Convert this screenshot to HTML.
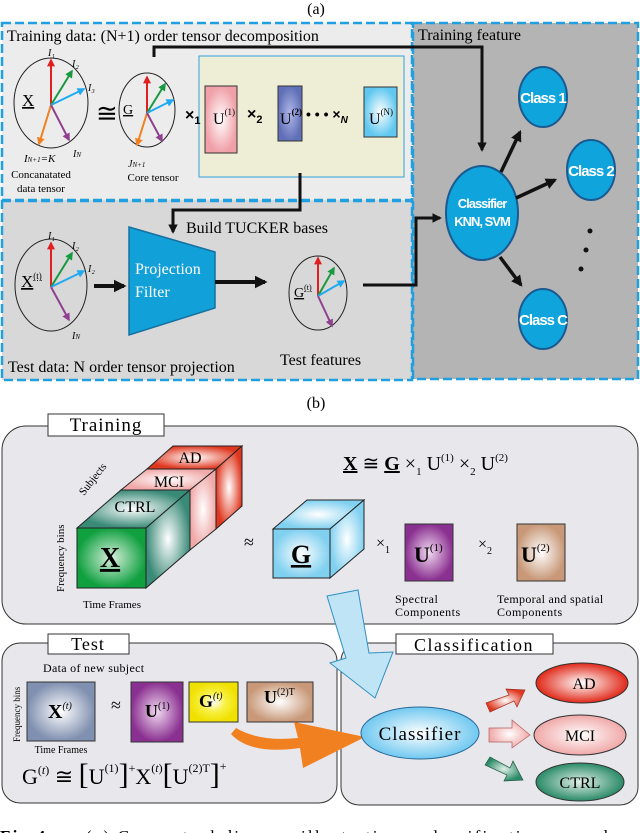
<!DOCTYPE html>
<html><head><meta charset="utf-8"><style>html,body{margin:0;padding:0;background:#fff}svg{display:block}</style></head>
<body>
<svg width="640" height="833" viewBox="0 0 640 833" xmlns="http://www.w3.org/2000/svg" font-family="'Liberation Serif', serif">
<defs>
<marker id="ah" viewBox="0 0 10 10" refX="8" refY="5" markerWidth="3.2" markerHeight="3.2" orient="auto"><path d="M0,0 L10,5 L0,10 z" fill="#111"/></marker>
<marker id="r" viewBox="0 0 10 10" refX="8" refY="5" markerWidth="4" markerHeight="4" orient="auto"><path d="M0,0 L10,5 L0,10 z" fill="#e02020"/></marker>
<marker id="g" viewBox="0 0 10 10" refX="8" refY="5" markerWidth="4" markerHeight="4" orient="auto"><path d="M0,0 L10,5 L0,10 z" fill="#1a9a40"/></marker>
<marker id="b" viewBox="0 0 10 10" refX="8" refY="5" markerWidth="4" markerHeight="4" orient="auto"><path d="M0,0 L10,5 L0,10 z" fill="#20aaf0"/></marker>
<marker id="o" viewBox="0 0 10 10" refX="8" refY="5" markerWidth="4" markerHeight="4" orient="auto"><path d="M0,0 L10,5 L0,10 z" fill="#f08020"/></marker>
<marker id="p" viewBox="0 0 10 10" refX="8" refY="5" markerWidth="4" markerHeight="4" orient="auto"><path d="M0,0 L10,5 L0,10 z" fill="#904090"/></marker>
<radialGradient id="pink"><stop offset="0" stop-color="#fff"/><stop offset="1" stop-color="#f0a0a8"/></radialGradient>
<radialGradient id="cyan"><stop offset="0" stop-color="#fff"/><stop offset="1" stop-color="#60c8f0"/></radialGradient>
<radialGradient id="blu"><stop offset="0" stop-color="#b0b8e8"/><stop offset="1" stop-color="#6070b8"/></radialGradient>
<radialGradient id="green"><stop offset="0" stop-color="#d8f0dc"/><stop offset="1" stop-color="#10a040"/></radialGradient>
<radialGradient id="teal"><stop offset="0" stop-color="#fff"/><stop offset="1" stop-color="#3a8a78"/></radialGradient>
<radialGradient id="red"><stop offset="0" stop-color="#fff"/><stop offset="1" stop-color="#e03820"/></radialGradient>
<radialGradient id="lb"><stop offset="0" stop-color="#fff"/><stop offset="1" stop-color="#80d0f0"/></radialGradient>
<radialGradient id="purp"><stop offset="0" stop-color="#f0d8f0"/><stop offset="1" stop-color="#8a3090"/></radialGradient>
<radialGradient id="tan"><stop offset="0" stop-color="#fff"/><stop offset="1" stop-color="#c89878"/></radialGradient>
<radialGradient id="gray"><stop offset="0" stop-color="#fff"/><stop offset="1" stop-color="#8090b0"/></radialGradient>
<radialGradient id="yel"><stop offset="0" stop-color="#fff"/><stop offset="0.5" stop-color="#f8f040"/><stop offset="1" stop-color="#f0e000"/></radialGradient>
<radialGradient id="adg"><stop offset="0" stop-color="#fff"/><stop offset="1" stop-color="#e02818"/></radialGradient>
<radialGradient id="mcig"><stop offset="0" stop-color="#fff"/><stop offset="1" stop-color="#f0a8a8"/></radialGradient>
<radialGradient id="ctg"><stop offset="0" stop-color="#e0f0e8"/><stop offset="1" stop-color="#2a8a68"/></radialGradient>
<radialGradient id="clg"><stop offset="0" stop-color="#fff"/><stop offset="1" stop-color="#70c8f0"/></radialGradient>
</defs>

<!-- (a) -->
<text x="316" y="14" font-size="16" text-anchor="middle">(a)</text>
<rect x="2" y="23" width="410" height="177" fill="#ececec"/>
<rect x="2" y="200" width="410" height="180" fill="#d8d8d8"/>
<rect x="413" y="23" width="225" height="356" fill="#b4b4b4"/>
<g fill="none" stroke="#20a0e0" stroke-width="2.5" stroke-dasharray="9,4">
<rect x="2" y="23" width="410" height="177"/>
<rect x="2" y="201" width="410" height="179"/>
<rect x="413" y="23" width="225" height="356"/>
</g>
<text x="7" y="41" font-size="16">Training data: (N+1) order tensor decomposition</text>
<text x="418" y="40" font-size="16">Training feature</text>

<!-- circle X -->
<ellipse cx="51" cy="103" rx="37" ry="45" fill="none" stroke="#222"/>
<g stroke-width="2">
<line x1="51" y1="105" x2="51" y2="60" stroke="#e02020" marker-end="url(#r)"/>
<line x1="51" y1="105" x2="72" y2="71" stroke="#1a9a40" marker-end="url(#g)"/>
<line x1="51" y1="105" x2="84" y2="89" stroke="#20aaf0" marker-end="url(#b)"/>
<line x1="51" y1="105" x2="39" y2="144" stroke="#f08020" marker-end="url(#o)"/>
<line x1="51" y1="105" x2="69" y2="140" stroke="#904090" marker-end="url(#p)"/>
</g>
<text x="22" y="106" font-size="17" text-decoration="underline">X</text>
<g font-size="10" font-style="italic"><text x="48" y="56">I₁</text><text x="72" y="67">I₂</text><text x="88" y="91">I₃</text><text x="73" y="157">I<tspan font-size="7">N</tspan></text></g>
<text x="24" y="162" font-size="11" font-style="italic">I<tspan font-size="7">N+1</tspan>=K</text>
<text x="41" y="178" font-size="11" text-anchor="middle">Concanatated</text>
<text x="41" y="192" font-size="11" text-anchor="middle">data tensor</text>
<text x="96" y="122" font-size="26">≅</text>

<!-- circle G -->
<ellipse cx="147" cy="110" rx="28" ry="37" fill="none" stroke="#222"/>
<g stroke-width="2">
<line x1="147" y1="113" x2="147" y2="77" stroke="#e02020" marker-end="url(#r)"/>
<line x1="147" y1="113" x2="165" y2="84" stroke="#1a9a40" marker-end="url(#g)"/>
<line x1="147" y1="113" x2="173" y2="100" stroke="#20aaf0" marker-end="url(#b)"/>
<line x1="147" y1="113" x2="137" y2="145" stroke="#f08020" marker-end="url(#o)"/>
<line x1="147" y1="113" x2="162" y2="141" stroke="#904090" marker-end="url(#p)"/>
</g>
<text x="123" y="114" font-size="14" text-decoration="underline">G</text>
<text x="128" y="167" font-size="10" font-style="italic">J<tspan font-size="7">N+1</tspan></text>
<text x="153" y="181" font-size="11" text-anchor="middle">Core tensor</text>

<rect x="199" y="56" width="205" height="121" fill="#eeeed6" stroke="#30a0e0"/>
<text x="185" y="120" font-size="16" font-family="'Liberation Sans',sans-serif" font-weight="bold">×<tspan font-size="11" dy="4">1</tspan></text>
<rect x="205" y="86" width="32" height="67" fill="url(#pink)" stroke="#333"/>
<text x="213" y="124" font-size="16">U<tspan font-size="9" dy="-9">(1)</tspan></text>
<text x="247" y="119" font-size="16" font-family="'Liberation Sans',sans-serif" font-weight="bold">×<tspan font-size="11" dy="4">2</tspan></text>
<rect x="278" y="86" width="24" height="55" fill="url(#blu)" stroke="#333"/>
<text x="280" y="124" font-size="16">U<tspan font-size="9" dy="-9" font-weight="bold">(2)</tspan></text>
<text x="306" y="119" font-size="14" font-family="'Liberation Sans',sans-serif" font-weight="bold">• • • ×<tspan font-size="10" dy="4" font-style="italic">N</tspan></text>
<rect x="364" y="87" width="33" height="50" fill="url(#cyan)" stroke="#333"/>
<text x="369" y="124" font-size="16">U<tspan font-size="9" dy="-9">(N)</tspan></text>

<!-- connectors -->
<polyline points="154,57 154,47 482,47 482,150" fill="none" stroke="#111" stroke-width="3" marker-end="url(#ah)"/>
<polyline points="300,173 300,210 173,210 173,232" fill="none" stroke="#111" stroke-width="3" marker-end="url(#ah)"/>
<text x="186" y="233" font-size="16">Build TUCKER bases</text>

<!-- circle Xt -->
<ellipse cx="51" cy="285" rx="36" ry="46" fill="none" stroke="#222"/>
<g stroke-width="2">
<line x1="51" y1="287" x2="51" y2="243" stroke="#e02020" marker-end="url(#r)"/>
<line x1="51" y1="287" x2="72" y2="253" stroke="#1a9a40" marker-end="url(#g)"/>
<line x1="51" y1="287" x2="84" y2="271" stroke="#20aaf0" marker-end="url(#b)"/>
<line x1="51" y1="287" x2="69" y2="320" stroke="#904090" marker-end="url(#p)"/>
</g>
<text x="21" y="287" font-size="17" text-decoration="underline">X<tspan font-size="9" dy="-8">(t)</tspan></text>
<g font-size="10" font-style="italic"><text x="48" y="239">I₁</text><text x="72" y="249">I₂</text><text x="88" y="272">I₂</text><text x="72" y="339">I<tspan font-size="7">N</tspan></text></g>
<line x1="94" y1="286" x2="124" y2="286" stroke="#111" stroke-width="4" marker-end="url(#ah)"/>
<polygon points="129,227 215,252 215,308 129,335" fill="#12a0d8" stroke="#1670a0" stroke-width="1.5"/>
<text x="135" y="274" font-size="16" fill="#fff">Projection</text>
<text x="135" y="297" font-size="16" fill="#fff">Filter</text>
<line x1="215" y1="282" x2="265" y2="282" stroke="#111" stroke-width="4" marker-end="url(#ah)"/>

<ellipse cx="318" cy="293" rx="29" ry="37" fill="none" stroke="#222"/>
<g stroke-width="2">
<line x1="318" y1="296" x2="318" y2="258" stroke="#e02020" marker-end="url(#r)"/>
<line x1="318" y1="296" x2="334" y2="268" stroke="#1a9a40" marker-end="url(#g)"/>
<line x1="318" y1="296" x2="344" y2="281" stroke="#20aaf0" marker-end="url(#b)"/>
<line x1="318" y1="296" x2="332" y2="326" stroke="#904090" marker-end="url(#p)"/>
</g>
<text x="294" y="297" font-size="14" text-decoration="underline">G<tspan font-size="8" dy="-7">(t)</tspan></text>
<text x="280" y="365" font-size="16">Test features</text>
<text x="8" y="372" font-size="16">Test data: N order tensor projection</text>
<polyline points="363,285 416,285 416,218 440,218" fill="none" stroke="#111" stroke-width="3" marker-end="url(#ah)"/>

<!-- classifier -->
<g stroke="#1a5a90" stroke-width="2" fill="#10a4dc">
<ellipse cx="482" cy="213" rx="36" ry="47"/>
<ellipse cx="543" cy="97" rx="24" ry="30"/>
<ellipse cx="591" cy="170" rx="24" ry="30"/>
<ellipse cx="543" cy="319" rx="24" ry="30"/>
</g>
<g font-family="'Liberation Sans',sans-serif" font-weight="bold" fill="#fff" text-anchor="middle" letter-spacing="-1">
<text x="482" y="208" font-size="13">Classifier</text>
<text x="482" y="226" font-size="13">KNN, SVM</text>
<text x="543" y="103" font-size="15">Class 1</text>
<text x="591" y="176" font-size="15">Class 2</text>
<text x="543" y="325" font-size="15">Class C</text>
</g>
<g stroke="#111" stroke-width="3.5" marker-end="url(#ah)">
<line x1="501" y1="172" x2="520" y2="132"/>
<line x1="516" y1="198" x2="555" y2="180"/>
<line x1="500" y1="257" x2="521" y2="285"/>
</g>
<circle cx="590" cy="231" r="2.5" fill="#111"/><circle cx="586" cy="250" r="2.5" fill="#111"/><circle cx="581" cy="269" r="2.5" fill="#111"/>

<!-- (b) -->
<text x="316" y="408" font-size="16" text-anchor="middle">(b)</text>
<rect x="2" y="426" width="636" height="198" rx="24" fill="#e8e8ec" stroke="#333"/>
<rect x="48" y="414" width="116" height="22" fill="#fff" stroke="#333"/>
<text x="106" y="431" font-size="19" text-anchor="middle" letter-spacing="1">Training</text>

<!-- stacked cube -->
<g stroke="#222" stroke-width="1">
<!-- AD slab (o2->o3) -->
<polygon points="147,469 216,469 242,446 173,446" fill="url(#red)"/>
<polygon points="216,469 242,446 242,506 216,529" fill="url(#red)"/>
<!-- MCI slab (o1->o2) -->
<polygon points="121,490 190,490 216,469 147,469" fill="url(#mcig)"/>
<polygon points="190,490 216,469 216,529 190,550" fill="url(#mcig)"/>
<!-- CTRL slab (o0->o1) -->
<polygon points="77,528 146,528 190,490 121,490" fill="url(#teal)"/>
<polygon points="146,528 190,490 190,550 146,588" fill="url(#teal)"/>
<rect x="77" y="528" width="69" height="60" fill="url(#green)"/>
</g>
<text x="190" y="463" font-size="16" text-anchor="middle">AD</text>
<text x="169" y="487" font-size="16" text-anchor="middle">MCI</text>
<text x="135" y="512" font-size="16" text-anchor="middle">CTRL</text>
<text x="110" y="567" font-size="28" font-weight="bold" text-anchor="middle" text-decoration="underline">X</text>
<text x="0" y="0" font-size="11" transform="translate(84,496) rotate(-52)">Subjects</text>
<text x="0" y="0" font-size="11" transform="translate(64,592) rotate(-90)">Frequency bins</text>
<text x="112" y="608" font-size="11" text-anchor="middle">Time Frames</text>
<text x="244" y="548" font-size="18">≈</text>

<g stroke="#222">
<polygon points="273,529 330,529 364,500 307,500" fill="url(#lb)"/>
<polygon points="330,529 364,500 364,549 330,578" fill="url(#lb)"/>
<rect x="273" y="529" width="57" height="49" fill="url(#lb)"/>
</g>
<text x="301" y="563" font-size="26" font-weight="bold" text-anchor="middle" text-decoration="underline">G</text>
<text x="376" y="548" font-size="16">×<tspan font-size="10" dy="5">1</tspan></text>
<rect x="405" y="524" width="48" height="57" fill="url(#purp)" stroke="#333"/>
<text x="414" y="562" font-size="22" font-weight="bold">U<tspan font-size="11" font-weight="normal" dy="-11">(1)</tspan></text>
<text x="478" y="549" font-size="16">×<tspan font-size="10" dy="5">2</tspan></text>
<rect x="517" y="524" width="48" height="57" fill="url(#tan)" stroke="#333"/>
<text x="521" y="562" font-size="22" font-weight="bold">U<tspan font-size="11" font-weight="normal" dy="-11">(2)</tspan></text>
<text x="395" y="603" font-size="12" letter-spacing="0.5">Spectral</text>
<text x="395" y="616" font-size="12" letter-spacing="0.5">Components</text>
<text x="497" y="603" font-size="12" letter-spacing="0.3">Temporal and spatial</text>
<text x="497" y="616" font-size="12" letter-spacing="0.5">Components</text>
<text x="343" y="470" font-size="20"><tspan font-weight="bold" text-decoration="underline">X</tspan> ≅ <tspan font-weight="bold" text-decoration="underline">G</tspan> ×<tspan font-size="11" dy="5">1</tspan><tspan dy="-5"> U</tspan><tspan font-size="11" dy="-9">(1)</tspan><tspan dy="9"> ×</tspan><tspan font-size="11" dy="5">2</tspan><tspan dy="-5"> U</tspan><tspan font-size="11" dy="-9">(2)</tspan></text>

<!-- Test box -->
<rect x="2" y="643" width="335" height="160" rx="18" fill="#e8e8ec" stroke="#333"/>
<rect x="48" y="634" width="81" height="20" fill="#fff" stroke="#333"/>
<text x="88" y="650" font-size="18" text-anchor="middle" letter-spacing="1">Test</text>
<!-- Classification box -->
<rect x="341" y="643" width="297" height="162" rx="18" fill="#e8e8ec" stroke="#333"/>
<rect x="396" y="634" width="157" height="20" fill="#fff" stroke="#333"/>
<text x="474" y="651" font-size="18" text-anchor="middle" letter-spacing="1.5">Classification</text>

<!-- big arrow -->
<polygon points="327,596 358,590 369,653 393,652 375,698 330,663 346,658" fill="#bfe4f6" stroke="#3090c0"/>

<text x="43" y="672" font-size="12" letter-spacing="0.3">Data of new subject</text>
<rect x="27" y="682" width="68" height="59" fill="url(#gray)" stroke="#333"/>
<text x="48" y="718" font-size="20" font-weight="bold">X<tspan font-size="10" font-weight="normal" font-style="italic" dy="-9">(t)</tspan></text>
<text x="0" y="0" font-size="9" transform="translate(20,742) rotate(-90)">Frequency bins</text>
<text x="61" y="753" font-size="10" text-anchor="middle">Time Frames</text>
<text x="111" y="711" font-size="18">≈</text>
<rect x="131" y="682" width="52" height="60" fill="url(#purp)" stroke="#333"/>
<text x="145" y="717" font-size="18" font-weight="bold">U<tspan font-size="10" font-weight="normal" dy="-8">(1)</tspan></text>
<rect x="189" y="682" width="49" height="40" fill="url(#yel)" stroke="#333"/>
<text x="199" y="707" font-size="18" font-weight="bold">G<tspan font-size="10" font-weight="normal" font-style="italic" dy="-8">(t)</tspan></text>
<rect x="247" y="682" width="66" height="40" fill="url(#tan)" stroke="#333"/>
<text x="264" y="703" font-size="18" font-weight="bold">U<tspan font-size="10" font-weight="normal" dy="-8">(2)T</tspan></text>
<text x="22" y="784" font-size="22">G<tspan font-size="12" dy="-10">(<tspan font-style="italic">t</tspan>)</tspan><tspan dy="10"> ≅ </tspan><tspan font-size="30">[</tspan>U<tspan font-size="12" dy="-12">(1)</tspan><tspan dy="12" font-size="30">]</tspan><tspan font-size="12" dy="-12">+</tspan><tspan dy="12">X</tspan><tspan font-size="12" dy="-12">(<tspan font-style="italic">t</tspan>)</tspan><tspan dy="12" font-size="30">[</tspan>U<tspan font-size="12" dy="-12">(2)T</tspan><tspan dy="12" font-size="30">]</tspan><tspan font-size="12" dy="-14">+</tspan></text>

<!-- orange arrow -->
<path d="M231,734 Q250,755 300,748 L303,768 L365,737 L294,722 L298,738 Q260,742 236,728 Z" fill="#f08020"/>

<ellipse cx="420" cy="733" rx="59" ry="26" fill="url(#clg)" stroke="#2a6a9a"/>
<text x="420" y="740" font-size="19" text-anchor="middle" letter-spacing="1">Classifier</text>
<ellipse cx="582" cy="683" rx="46" ry="20" fill="url(#adg)" stroke="#333"/>
<text x="584" y="689" font-size="16" text-anchor="middle">AD</text>
<ellipse cx="580" cy="735" rx="46" ry="20" fill="url(#mcig)" stroke="#333"/>
<text x="580" y="741" font-size="16" text-anchor="middle">MCI</text>
<ellipse cx="580" cy="782" rx="44" ry="19" fill="url(#ctg)" stroke="#333"/>
<text x="580" y="788" font-size="16" text-anchor="middle">CTRL</text>
<polygon points="486,703 509,695 506,689 525,690 517,707 514,701 490,712" fill="url(#red)" stroke="#a03020" stroke-width="0.7"/>
<polygon points="489,728 512,728 512,720 530,735 512,748 512,742 489,742" fill="url(#mcig)" stroke="#b06060" stroke-width="0.7"/>
<polygon points="485,765 490,757 510,768 513,761 523,780 504,781 507,775" fill="url(#ctg)" stroke="#205a40" stroke-width="0.7"/>

<text x="0" y="842" font-size="17" textLength="636" lengthAdjust="spacing"><tspan font-weight="bold">Fig 4.</tspan> — (a) Conceptual diagram illustrating a classification procedure</text>
</svg>
</body></html>
